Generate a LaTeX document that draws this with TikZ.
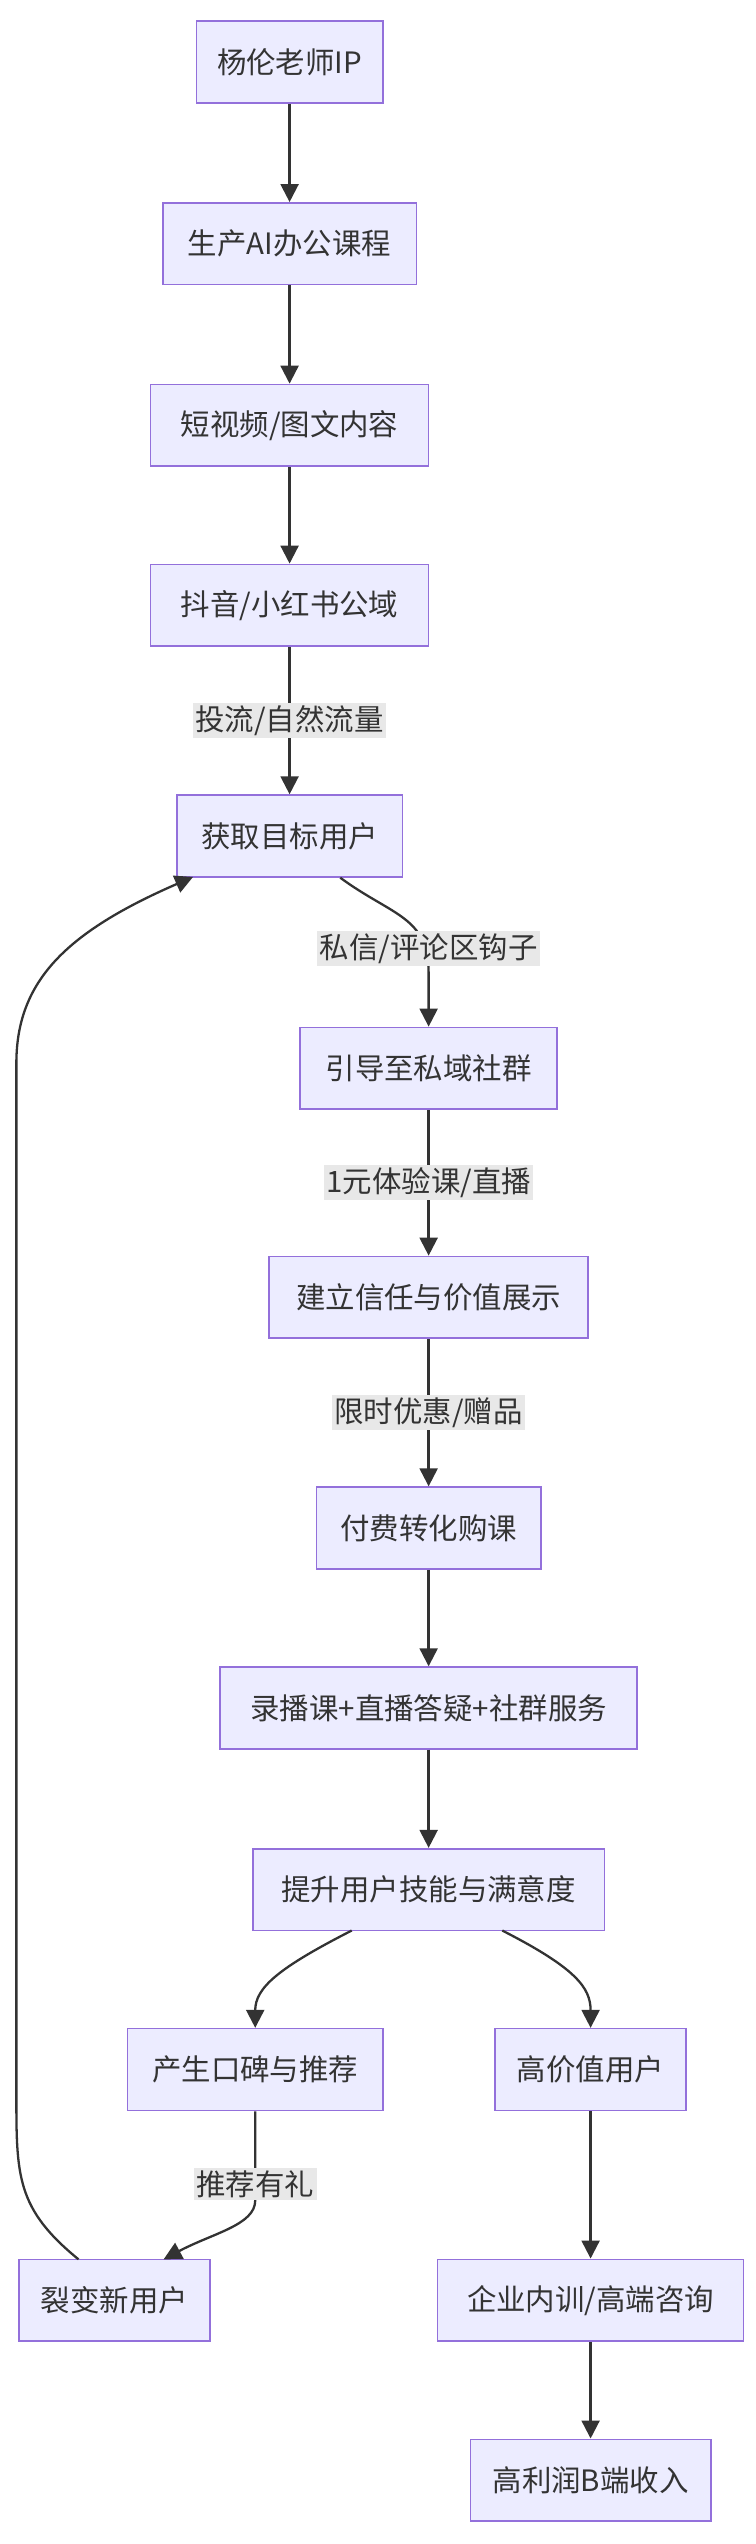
\documentclass[tikz,border=0pt]{standalone}
\usepackage{fontspec}
\setmainfont{Noto Sans CJK SC}
\usetikzlibrary{arrows.meta}
\definecolor{nfill}{HTML}{ECECFF}
\definecolor{nbord}{HTML}{9370DB}
\definecolor{ln}{HTML}{333333}
\definecolor{lbg}{HTML}{E8E8E8}
\begin{document}
\begin{tikzpicture}[x=1pt,y=-1pt,
  box/.style={draw=nbord,fill=nfill,line width=1pt,minimum height=50pt,inner xsep=0pt,text=ln,font=\fontsize{18}{20}\selectfont},
  lab/.style={fill=lbg,inner sep=1.5pt,text=ln,font=\fontsize{18}{20}\selectfont},
  ar/.style={draw=ln,line width=1.4pt,-{Triangle[length=11pt,width=11pt]}}]
\useasboundingbox (0,0) rectangle (462,1555);
\node[box,minimum width=114pt] (n1) at (177,38) {杨伦老师IP};
\node[box,minimum width=155pt] (n2) at (177,149) {生产AI办公课程};
\node[box,minimum width=170pt] (n3) at (177,260) {短视频/图文内容};
\node[box,minimum width=170pt] (n4) at (177,370) {抖音/小红书公域};
\node[box,minimum width=138pt] (n5) at (177,511) {获取目标用户};
\node[box,minimum width=157pt] (n6) at (262,653) {引导至私域社群};
\node[box,minimum width=195pt] (n7) at (262,793) {建立信任与价值展示};
\node[box,minimum width=137pt] (n8) at (262,934) {付费转化购课};
\node[box,minimum width=255pt] (n9) at (262,1044) {录播课+直播答疑+社群服务};
\node[box,minimum width=215pt] (n10) at (262,1155) {提升用户技能与满意度};
\node[box,minimum width=156pt] (n11) at (156,1265) {产生口碑与推荐};
\node[box,minimum width=117pt] (n12) at (361,1265) {高价值用户};
\node[box,minimum width=117pt] (n13) at (70,1406) {裂变新用户};
\node[box,minimum width=187pt] (n14) at (361,1406) {企业内训/高端咨询};
\node[box,minimum width=147pt] (n15) at (361,1516) {高利润B端收入};
\draw[ar] (n1) -- (n2);
\draw[ar] (n2) -- (n3);
\draw[ar] (n3) -- (n4);
\draw[ar] (n4) -- node[lab] (l1) {投流/自然流量} (n5);
\draw[ar] (n5.south)++(31,0) coordinate (a5) .. controls (240,560) and (262,560) .. (262,595) -- (n6.north);
\node[lab] (l2) at (262,580) {私信/评论区钩子};
\draw[ar] (n6) -- node[lab] (l3) {1元体验课/直播} (n7);
\draw[ar] (n7) -- node[lab] (l4) {限时优惠/赠品} (n8);
\draw[ar] (n8) -- (n9);
\draw[ar] (n9) -- (n10);
\coordinate (b10) at (215,1180);
\coordinate (c10) at (307,1180);
\draw[ar] (b10) .. controls (170,1203) and (156,1215) .. (n11.north);
\draw[ar] (c10) .. controls (352,1203) and (361,1215) .. (n12.north);
\draw[ar] (n12) -- (n14);
\draw[ar] (n14) -- (n15);
\coordinate (d13) at (100,1381);
\draw[ar] (n11.south) -- (156,1345) .. controls (156,1360) and (130,1365) .. (d13);
\node[lab] (l5) at (156,1335) {推荐有礼};
\coordinate (e13) at (48,1381);
\coordinate (f5) at (118,536);
\draw[ar] (e13) .. controls (10,1350) and (10,1330) .. (10,1280) -- (10,650) .. controls (10,600) and (40,570) .. (f5);
\end{tikzpicture}
\end{document}
